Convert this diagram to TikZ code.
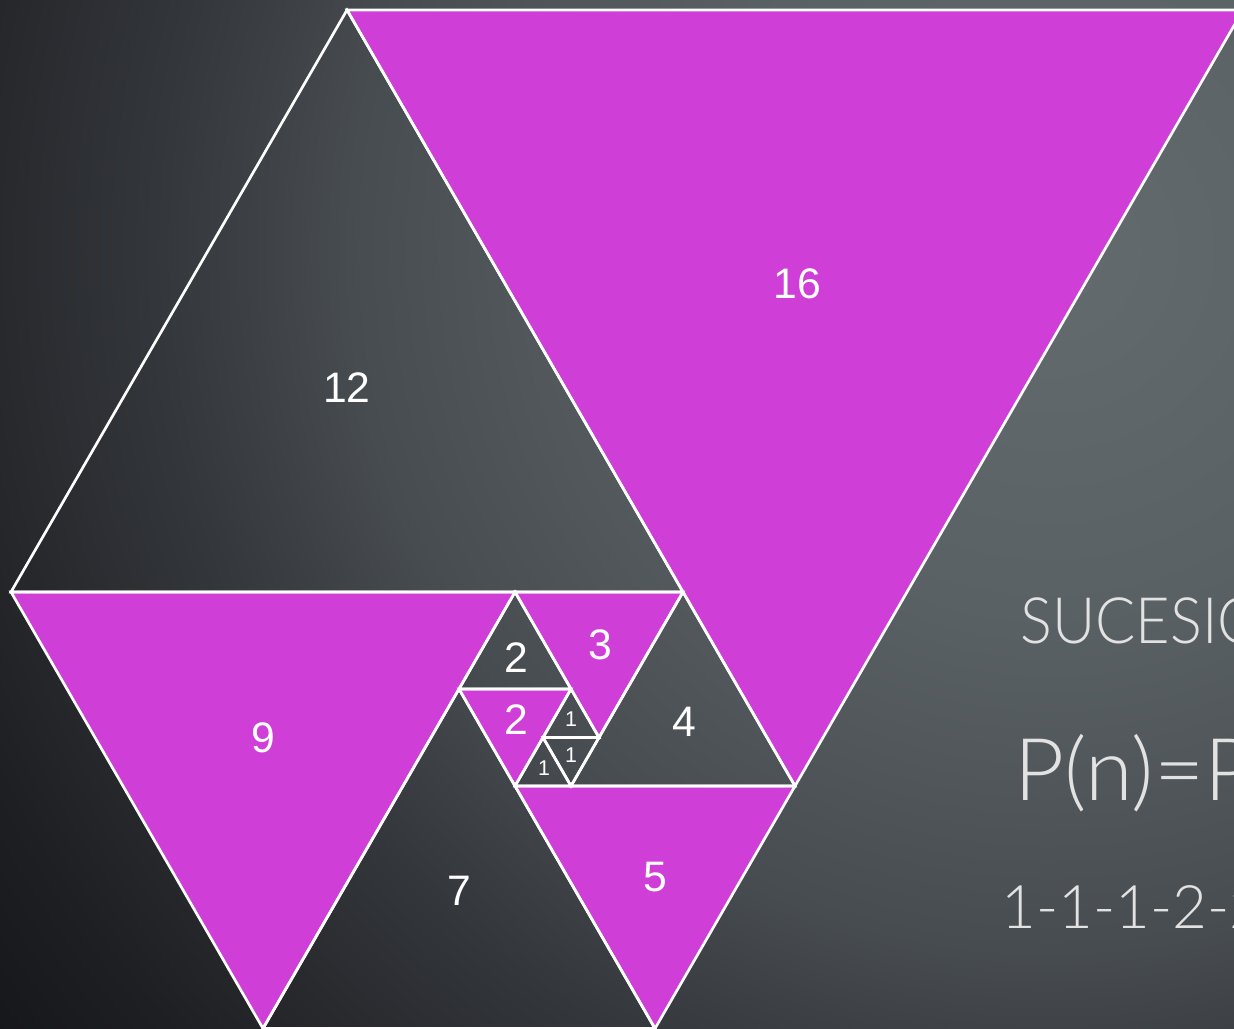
\documentclass[tikz,border=0pt]{standalone}
\usepackage{fontspec}
\setmainfont{Liberation Sans}
\newfontfamily\thinfont{Lato Light}

\definecolor{padMagenta}{HTML}{D03ED8}
\definecolor{bgHi}{HTML}{646B6E}
\definecolor{bgHiB}{HTML}{5A6164}
\definecolor{bgMid}{HTML}{474C50}
\definecolor{bgMidB}{HTML}{33363A}
\definecolor{bgLoB}{HTML}{1E1F23}
\definecolor{bgLo}{HTML}{121215}
\definecolor{sideGray}{HTML}{E2E2E2}

\pgfdeclareradialshading{boardglow}{\pgfpoint{0bp}{0bp}}{color(0bp)=(bgHi); color(6.5bp)=(bgHiB); color(12.5bp)=(bgMid); color(16bp)=(bgMidB); color(21bp)=(bgLoB); color(25bp)=(bgLo); color(50bp)=(bgLo)}

\tikzset{every picture/.style={line width=0.75pt}}
\tikzset{
  tri/.style={draw=white, line width=2pt},
  padfill/.style={fill=padMagenta},
  numlabel/.style={text=white, inner sep=0pt, font=\fontsize{32}{32}\selectfont},
  smalllabel/.style={text=white, inner sep=0pt, font=\fontsize{16}{16}\selectfont},
  sidetext/.style={text=sideGray, inner sep=0pt, anchor=base west}
}

\begin{document}
\begin{tikzpicture}[x=0.75pt,y=0.75pt,yscale=-1,xscale=1]
        \useasboundingbox (0,0) rectangle (1234,1028);
        \clip (0,0) rectangle (1234,1028);
        \shade[shading=boardglow] (1050,250) circle (1400);

        \fill[padfill] (347,10) -- (1243,10) -- (795,786) -- cycle;
        \fill[padfill] (11,592) -- (515,592) -- (263,1028.5) -- cycle;
        \fill[padfill] (515,786) -- (795,786) -- (655,1028.5) -- cycle;
        \fill[padfill] (515,592) -- (683,592) -- (599,737.5) -- cycle;
        \fill[padfill] (459,689) -- (571,689) -- (515,786) -- cycle;

        \draw[tri] (347,10) -- (1243,10) -- (795,786) -- cycle;
        \draw[tri] (11,592) -- (683,592) -- (347,10) -- cycle;
        \draw[tri] (11,592) -- (515,592) -- (263,1028.5) -- cycle;
        \draw[tri] (263,1028.5) -- (655,1028.5) -- (459,689) -- cycle;
        \draw[tri] (515,786) -- (795,786) -- (655,1028.5) -- cycle;
        \draw[tri] (571,786) -- (795,786) -- (683,592) -- cycle;
        \draw[tri] (515,592) -- (683,592) -- (599,737.5) -- cycle;
        \draw[tri] (459,689) -- (571,689) -- (515,592) -- cycle;
        \draw[tri] (459,689) -- (571,689) -- (515,786) -- cycle;
        \draw[tri] (543,737.5) -- (599,737.5) -- (571,689) -- cycle;
        \draw[tri] (543,737.5) -- (599,737.5) -- (571,786) -- cycle;
        \draw[tri] (515,786) -- (571,786) -- (543,737.5) -- cycle;

        \node[numlabel] (n16) at (797,284) {16};
        \node[numlabel] (n12) at (347,388) {12};
        \node[numlabel] (n9) at (263,738) {9};
        \node[numlabel] (n7) at (459,891) {7};
        \node[numlabel] (n5) at (655,877) {5};
        \node[numlabel] (n4) at (684,722) {4};
        \node[numlabel] (n3) at (600,645) {3};
        \node[numlabel] (n2up) at (516,658) {2};
        \node[numlabel] (n2down) at (516,720) {2};
        \node[smalllabel] (n1up) at (571,719) {1};
        \node[smalllabel] (n1down) at (571,755) {1};
        \node[smalllabel] (n1left) at (544,768) {1};

        \node[sidetext, xscale=0.93, font=\thinfont\fontsize{48}{48}\selectfont] (title) at (1020,643) {SUCESIÓN DE PADOVAN};
        \node[sidetext, font=\thinfont\fontsize{65}{65}\selectfont] (rule) at (1014,800) {P(n)=P(n-2)+P(n-3)};
        \node[sidetext, font=\thinfont\fontsize{45}{45}\selectfont] (terms) at (1001,928) {1-1-1-2-2-3-4-5-7-9-12-16};
    \end{tikzpicture}
\end{document}
